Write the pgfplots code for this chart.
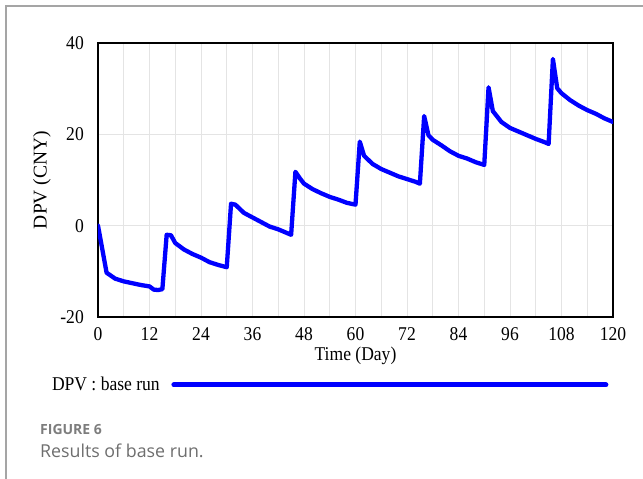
\documentclass[border=0pt]{standalone}
\usepackage{fontspec}
\usepackage{pgfplots}
\usepackage{pgfplotstable}
\pgfplotsset{compat=1.18}
\setmainfont{Liberation Serif}
\newfontfamily\vfont[FakeStretch=0.9]{Liberation Serif}
\newfontfamily\tfont{Liberation Serif}
\newfontfamily\capfont{Open Sans}
\definecolor{vblue}{RGB}{0,0,255}
\definecolor{framegray}{RGB}{165,165,165}
\definecolor{gridgray}{RGB}{228,228,228}
\definecolor{capgray}{RGB}{125,125,125}
\definecolor{capgraytwo}{RGB}{110,110,110}

\pgfplotstableread{
t dpv
0 0
2 -10.3
4 -11.6
6 -12.2
8 -12.6
10 -13.0
12 -13.3
13 -14.0
14 -14.1
15 -13.9
16 -2.0
17 -2.1
18 -3.8
20 -5.2
22 -6.2
24 -7.0
26 -8.0
28 -8.6
30 -9.1
31 4.8
32 4.6
34 2.8
36 1.8
38 0.8
40 -0.2
42 -0.8
44 -1.6
45 -2.0
46 11.8
47 10.4
48 9.2
50 8.0
52 7.1
54 6.3
56 5.7
58 5.0
60 4.6
61 18.4
62 15.3
64 13.5
66 12.4
68 11.6
70 10.8
72 10.2
74 9.6
75 9.2
76 24.0
77 19.8
78 18.8
80 17.6
82 16.3
84 15.3
86 14.7
88 13.9
90 13.3
91 30.3
92 25.1
94 22.7
96 21.4
98 20.6
100 19.8
102 19.0
104 18.3
105 17.9
106 36.5
107 30.1
108 29.0
110 27.5
112 26.3
114 25.3
116 24.5
118 23.5
120 22.7
}\dpvdata

\begin{document}
\begin{tikzpicture}
\useasboundingbox (0pt,0pt) rectangle (643pt,479pt);
\draw[framegray, line width=1.5pt] (6pt,0pt) -- (6pt,473pt) -- (643pt,473pt);
\begin{axis}[
  at={(98pt,162pt)}, anchor=south west,
  width=515pt, height=274pt, scale only axis,
  xmin=0, xmax=120, ymin=-20, ymax=40,
  xtick={0,12,...,120}, minor xtick={6,18,...,114},
  ytick={-20,0,20,40},
  grid=both,
  major grid style={gridgray, line width=0.8pt},
  minor grid style={gridgray, line width=0.8pt},
  major tick length=0pt, minor tick length=0pt,
  axis line style={black, line width=2.5pt},
  /pgf/number format/assume math mode=true,
  tick label style={font=\vfont\fontsize{19.5}{22}\selectfont, inner sep=0pt},
  yticklabel style={anchor=east, xshift=-14pt},
  xticklabel style={anchor=north, yshift=-10pt},
  xlabel={Time (Day)},
  ylabel={DPV (CNY)},
  xlabel style={font=\vfont\fontsize{19.5}{22}\selectfont, inner sep=0pt,
    at={(axis description cs:0.5,0)}, anchor=north, yshift=-30pt},
  ylabel style={font=\tfont\fontsize{19.5}{22}\selectfont, inner sep=0pt,
    at={(axis description cs:0,0.5)}, anchor=center, rotate=0, yshift=56pt},
  legend style={at={(axis description cs:-0.0893,-0.248)}, anchor=west,
    draw=none, fill=none, inner sep=0pt, outer sep=0pt,
    font=\vfont\fontsize{19.5}{22}\selectfont,
    nodes={inner sep=0pt}},
  legend plot pos=right,
  legend image code/.code={\path (0pt,0pt); \draw[#1, line width=5pt] (12pt,0pt) -- (444pt,0pt);},
]
\addplot[vblue, line width=4.3pt, line join=round, line cap=round] table[x=t, y=dpv] {\dpvdata};
\addlegendentry{DPV : base run}
\end{axis}
\node[anchor=base west, inner sep=0pt, font=\capfont\bfseries\fontsize{14}{16}\selectfont, text=capgray] at (40pt,44pt) {FIGURE 6};
\node[anchor=base west, inner sep=0pt, font=\capfont\fontsize{17.8}{21}\selectfont, text=capgraytwo] at (40pt,21pt) {Results of base run.};
\end{tikzpicture}
\end{document}
